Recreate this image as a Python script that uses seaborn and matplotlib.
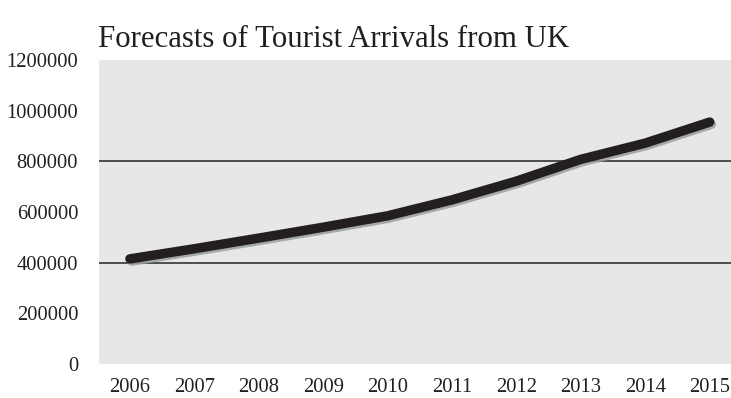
import matplotlib
matplotlib.use("Agg")
import matplotlib.pyplot as plt
import matplotlib.patheffects as pe
import seaborn as sns
import pandas as pd

years = ["2006", "2007", "2008", "2009", "2010", "2011", "2012", "2013", "2014", "2015"]
arrivals = [415000, 455000, 497000, 540000, 585000, 648000, 722000, 808000, 872000, 955000]
y_ticks = [0, 200000, 400000, 600000, 800000, 1000000, 1200000]
grid_values = [400000, 800000]
title = "Forecasts of Tourist Arrivals from UK"

sns.set_theme(style="white")
plt.rcParams["font.family"] = ["Liberation Serif", "DejaVu Serif"]

df = pd.DataFrame({"idx": range(len(years)), "year": years, "arrivals": arrivals})

fig = plt.figure(figsize=(7.31, 3.98), dpi=100)
ax = fig.add_axes([99 / 731, 34 / 398, 1 - 99 / 731, (364 - 60) / 398])
ax.set_facecolor("#e6e7e6")

for g in grid_values:
    ax.axhline(g, color="#222222", linewidth=1.1, zorder=1)

sns.lineplot(data=df, x="idx", y="arrivals", ax=ax, color="#231f20", linewidth=6.8,
             solid_capstyle="round", solid_joinstyle="round", zorder=3,
             path_effects=[pe.SimpleLineShadow(offset=(1.2, -1.6), shadow_color="#9a9da2", alpha=0.85),
                           pe.Normal()])

ax.set_xlim(-0.48, 9.33)
ax.set_ylim(0, 1200000)
ax.set_xticks(range(len(years)))
ax.set_xticklabels(years)
ax.set_yticks(y_ticks)
ax.set_yticklabels([str(v) for v in y_ticks])
ax.tick_params(axis="both", length=0, labelsize=14.8, colors="#231f20")
ax.tick_params(axis="y", pad=15)
ax.tick_params(axis="x", pad=10)
ax.set_xlabel("")
ax.set_ylabel("")
for s in ax.spines.values():
    s.set_visible(False)

fig.text(98 / 731, 1 - 47 / 398, title, fontsize=22.2, color="#231f20", va="baseline", ha="left")

fig.savefig("out.png", dpi=100)
